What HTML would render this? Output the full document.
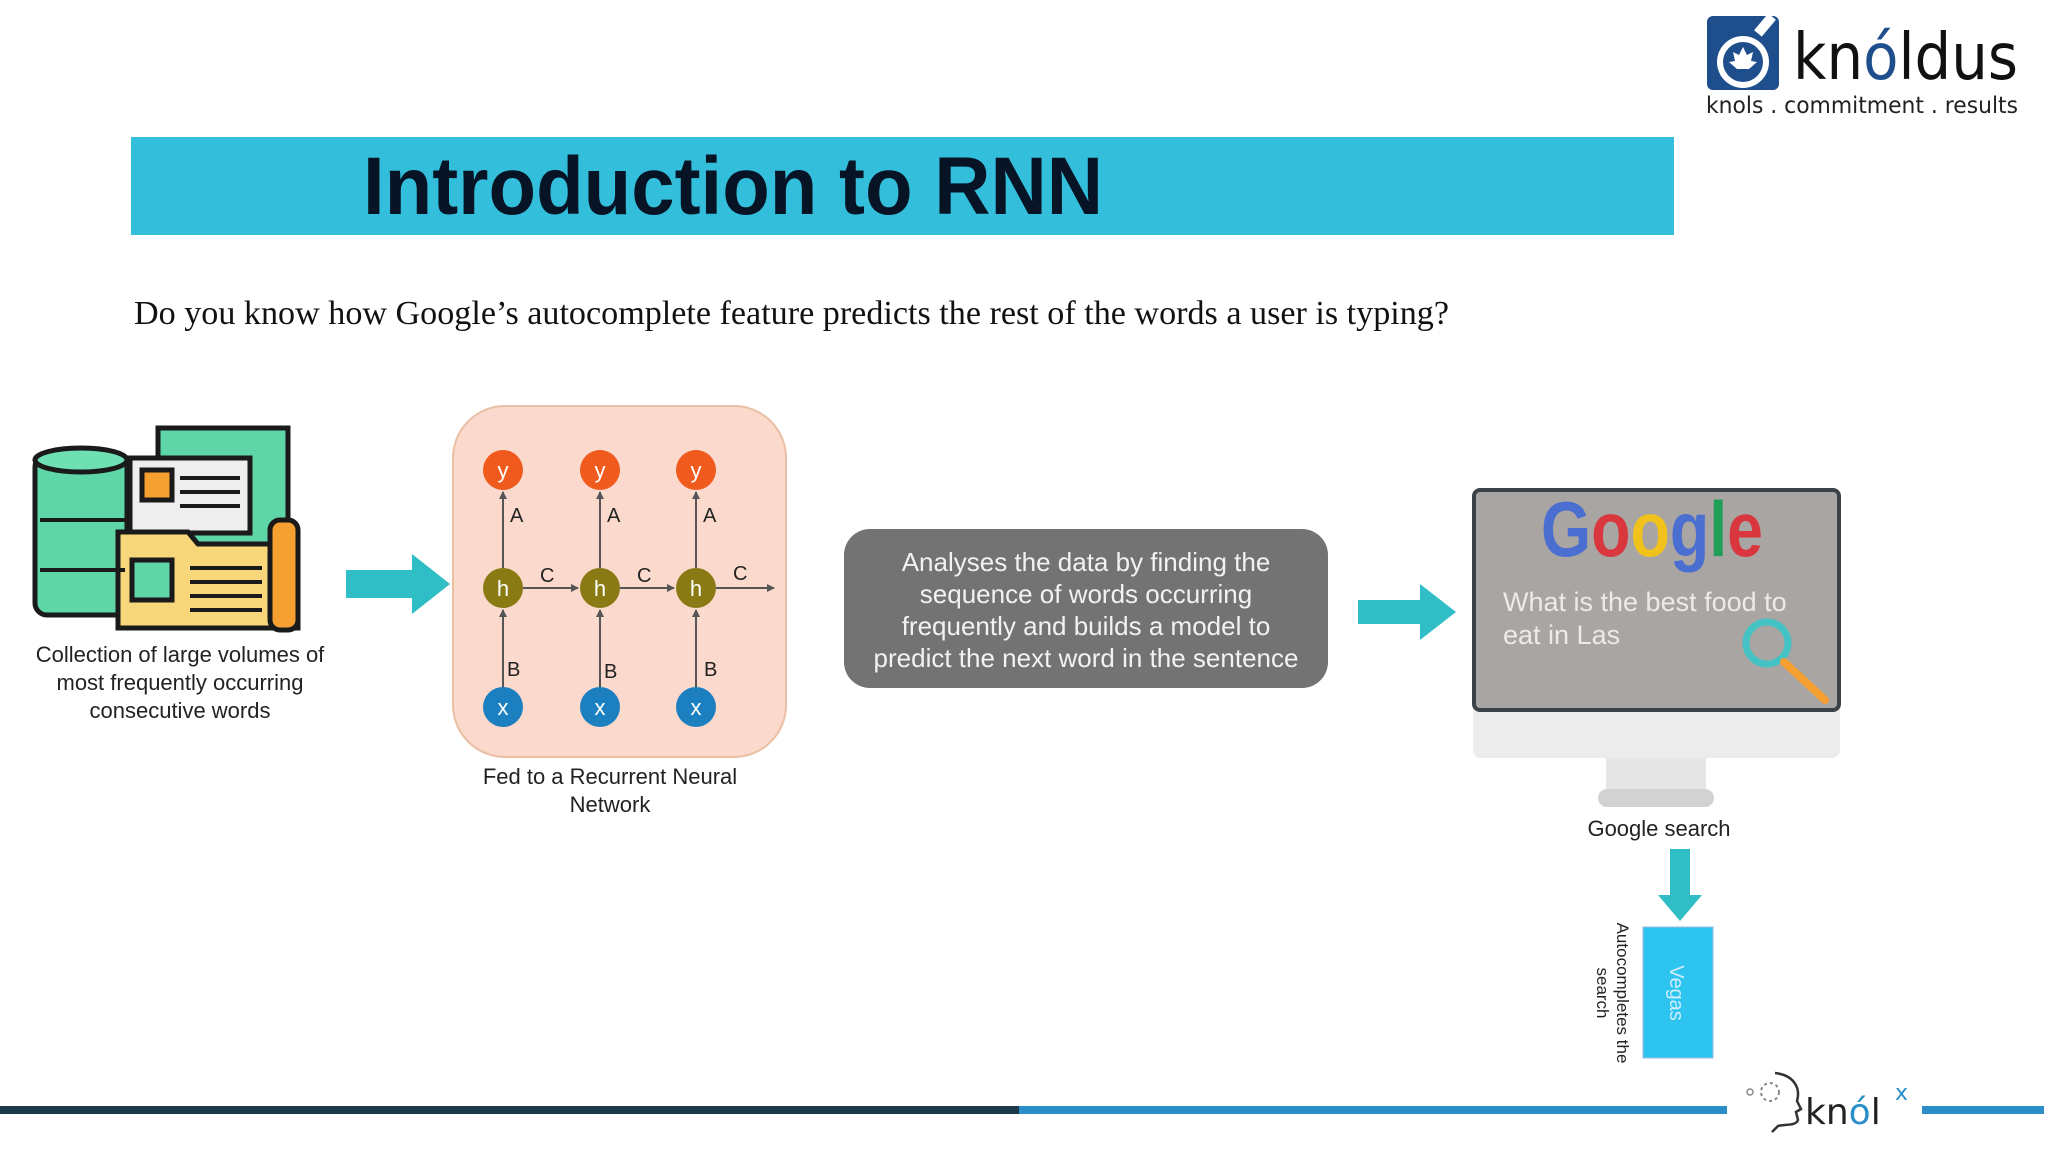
<!DOCTYPE html>
<html><head><meta charset="utf-8"><style>
html,body{margin:0;padding:0;background:#fff}
svg{display:block}
</style></head><body>
<svg width="2048" height="1152" viewBox="0 0 2048 1152" xmlns="http://www.w3.org/2000/svg" font-family="Liberation Sans, sans-serif">
<defs>
<marker id="ar" markerWidth="8" markerHeight="8" refX="7" refY="4" orient="auto" markerUnits="userSpaceOnUse"><path d="M0,0 L8,4 L0,8 z" fill="#555"/></marker>
</defs>
<rect width="2048" height="1152" fill="#fff"/>
<!-- logo -->
<rect x="1707" y="16" width="72" height="74" rx="6" fill="#1f4e8c"/>
<circle cx="1743" cy="62" r="26" fill="#fff"/>
<circle cx="1743" cy="62" r="20" fill="#1f4e8c"/>
<path d="M1743,47 l4,8 6,-3 -2,9 6,1 -8,7 h-12 l-8,-7 6,-1 -2,-9 6,3z" fill="#fff"/>
<rect x="1760" y="14" width="10" height="22" fill="#fff" transform="rotate(40 1765 25)"/>
<text x="1793" y="79" font-family="DejaVu Sans, sans-serif" font-size="64" fill="#111" textLength="225" lengthAdjust="spacingAndGlyphs">kn<tspan fill="#1f4e8c">ó</tspan>ldus</text>
<text x="1706" y="113" font-family="DejaVu Sans, sans-serif" font-size="23" fill="#222" textLength="312" lengthAdjust="spacingAndGlyphs">knols . commitment . results</text>
<!-- title -->
<rect x="131" y="137" width="1543" height="98" fill="#33bfdb"/>
<text x="363" y="214" font-size="82" font-weight="bold" fill="#061425" textLength="740" lengthAdjust="spacingAndGlyphs">Introduction to RNN</text>
<text x="134" y="324" font-family="Liberation Serif, serif" font-size="34" fill="#111" textLength="1315" lengthAdjust="spacingAndGlyphs">Do you know how Google’s autocomplete feature predicts the rest of the words a user is typing?</text>
<!-- database icon -->
<g stroke="#1a1a1a" stroke-width="5">
<rect x="158" y="428" width="130" height="140" fill="#5fd6a8"/>
<rect x="35" y="455" width="92" height="160" rx="12" fill="#5fd6a8"/>
<ellipse cx="81" cy="460" rx="46" ry="12" fill="#6ee0b4"/>
<rect x="130" y="458" width="120" height="75" fill="#eeeeee"/>
<rect x="142" y="470" width="30" height="30" fill="#f5a030"/>
<path d="M118,532 h70 l10,12 h100 v84 h-180z" fill="#f8d77a"/>
<rect x="132" y="560" width="40" height="40" fill="#5fd6a8"/>
<rect x="270" y="520" width="28" height="110" rx="10" fill="#f5a030"/>
</g>
<g stroke="#1a1a1a" stroke-width="4">
<line x1="180" y1="478" x2="240" y2="478"/><line x1="180" y1="492" x2="240" y2="492"/><line x1="180" y1="506" x2="240" y2="506"/>
<line x1="190" y1="568" x2="262" y2="568"/><line x1="190" y1="582" x2="262" y2="582"/><line x1="190" y1="596" x2="262" y2="596"/><line x1="190" y1="610" x2="262" y2="610"/>
<line x1="40" y1="520" x2="125" y2="520"/><line x1="40" y1="570" x2="125" y2="570"/>
</g>
<g font-size="22" fill="#222" text-anchor="middle">
<text x="180" y="662">Collection of large volumes of</text>
<text x="180" y="690">most frequently occurring</text>
<text x="180" y="718">consecutive words</text>
</g>
<!-- arrow1 -->
<path d="M346,570 h66 v-16 l38,30 -38,30 v-16 h-66z" fill="#2fbdc6"/>
<!-- RNN box -->
<rect x="453" y="406" width="333" height="351" rx="52" fill="#fbd9cc" stroke="#ebbfa3" stroke-width="2"/>
<g stroke="#555" stroke-width="2" fill="none" marker-end="url(#ar)">
<line x1="503" y1="688" x2="503" y2="610"/><line x1="600" y1="688" x2="600" y2="610"/><line x1="696" y1="688" x2="696" y2="610"/>
<line x1="503" y1="568" x2="503" y2="492"/><line x1="600" y1="568" x2="600" y2="492"/><line x1="696" y1="568" x2="696" y2="492"/>
<line x1="523" y1="588" x2="578" y2="588"/><line x1="620" y1="588" x2="674" y2="588"/><line x1="716" y1="588" x2="774" y2="588"/>
</g>
<g font-size="20" fill="#222">
<text x="510" y="522">A</text><text x="607" y="522">A</text><text x="703" y="522">A</text>
<text x="507" y="676">B</text><text x="604" y="678">B</text><text x="704" y="676">B</text>
<text x="540" y="582">C</text><text x="637" y="582">C</text><text x="733" y="580">C</text>
</g>
<g font-size="22" fill="#fff" text-anchor="middle">
<circle cx="503" cy="470" r="20" fill="#f05a1c"/><circle cx="600" cy="470" r="20" fill="#f05a1c"/><circle cx="696" cy="470" r="20" fill="#f05a1c"/>
<text x="503" y="478">y</text><text x="600" y="478">y</text><text x="696" y="478">y</text>
<circle cx="503" cy="588" r="20" fill="#8a7a14"/><circle cx="600" cy="588" r="20" fill="#8a7a14"/><circle cx="696" cy="588" r="20" fill="#8a7a14"/>
<text x="503" y="596">h</text><text x="600" y="596">h</text><text x="696" y="596">h</text>
<circle cx="503" cy="707" r="20" fill="#1b7fc0"/><circle cx="600" cy="707" r="20" fill="#1b7fc0"/><circle cx="696" cy="707" r="20" fill="#1b7fc0"/>
<text x="503" y="715">x</text><text x="600" y="715">x</text><text x="696" y="715">x</text>
</g>
<g font-size="22" fill="#222" text-anchor="middle">
<text x="610" y="784">Fed to a Recurrent Neural</text>
<text x="610" y="812">Network</text>
</g>
<!-- gray box -->
<rect x="844" y="529" width="484" height="159" rx="26" fill="#737373"/>
<g font-size="26" fill="#f2f2f2" text-anchor="middle">
<text x="1086" y="571">Analyses the data by finding the</text>
<text x="1086" y="603">sequence of words occurring</text>
<text x="1086" y="635">frequently and builds a model to</text>
<text x="1086" y="667">predict the next word in the sentence</text>
</g>
<!-- arrow2 -->
<path d="M1358,600 h62 v-16 l36,28 -36,28 v-16 h-62z" fill="#2fbdc6"/>
<!-- monitor -->
<rect x="1473" y="700" width="367" height="58" rx="8" fill="#ececec"/>
<rect x="1474" y="490" width="365" height="220" rx="6" fill="#a9a5a3" stroke="#3a4448" stroke-width="4"/>
<rect x="1606" y="758" width="100" height="32" fill="#e6e6e6"/>
<rect x="1598" y="789" width="116" height="18" rx="9" fill="#d2d2d2"/>
<text x="1541" y="556" font-size="78" font-weight="bold" textLength="222" lengthAdjust="spacingAndGlyphs"><tspan fill="#4a6fd1">G</tspan><tspan fill="#d9363e">o</tspan><tspan fill="#f1c21b">o</tspan><tspan fill="#4a6fd1">g</tspan><tspan fill="#1f9e57">l</tspan><tspan fill="#d9363e">e</tspan></text>
<g font-size="27" fill="#eeeae8">
<text x="1503" y="611">What is the best food to</text>
<text x="1503" y="644">eat in Las</text>
</g>
<circle cx="1767" cy="643" r="21" fill="none" stroke="#45c2c4" stroke-width="7"/>
<line x1="1784" y1="662" x2="1825" y2="700" stroke="#f5a030" stroke-width="8" stroke-linecap="round"/>
<text x="1659" y="836" font-size="22" fill="#222" text-anchor="middle">Google search</text>
<!-- down arrow -->
<path d="M1670,849 h20 v46 h12 l-22,26 -22,-26 h12z" fill="#2fbdc6"/>
<rect x="1643" y="927" width="70" height="131" fill="#2ec4f0" stroke="#9bd" stroke-width="1"/>
<text transform="translate(1670 993) rotate(90)" font-size="20" fill="#cfefff" text-anchor="middle">Vegas</text>
<g transform="translate(1611 993) rotate(90)" font-size="17" fill="#222" text-anchor="middle">
<text x="0" y="-6">Autocompletes the</text>
<text x="0" y="14">search</text>
</g>
<!-- bottom line -->
<rect x="0" y="1106" width="1019" height="8" fill="#1a3a4a"/>
<rect x="1019" y="1106" width="708" height="8" fill="#2a8fc8"/>
<rect x="1922" y="1106" width="122" height="8" fill="#2a8fc8"/>
<g fill="none" stroke="#333" stroke-width="2.5">
<path d="M1775,1073 c18,2 26,14 22,28 l4,8 -5,3 2,8 c-2,6 -12,4 -20,6 l-6,6"/>
</g>
<circle cx="1750" cy="1092" r="3" fill="none" stroke="#888" stroke-width="1.5"/>
<circle cx="1770" cy="1092" r="9" fill="none" stroke="#888" stroke-width="2" stroke-dasharray="3 3"/>
<text x="1805" y="1124" font-family="DejaVu Sans, sans-serif" font-size="36" fill="#222">kn<tspan fill="#2a8fc8">ó</tspan>l</text>
<text x="1895" y="1100" font-family="DejaVu Sans, sans-serif" font-size="22" fill="#2a8fc8">x</text>
</svg>
</body></html>
